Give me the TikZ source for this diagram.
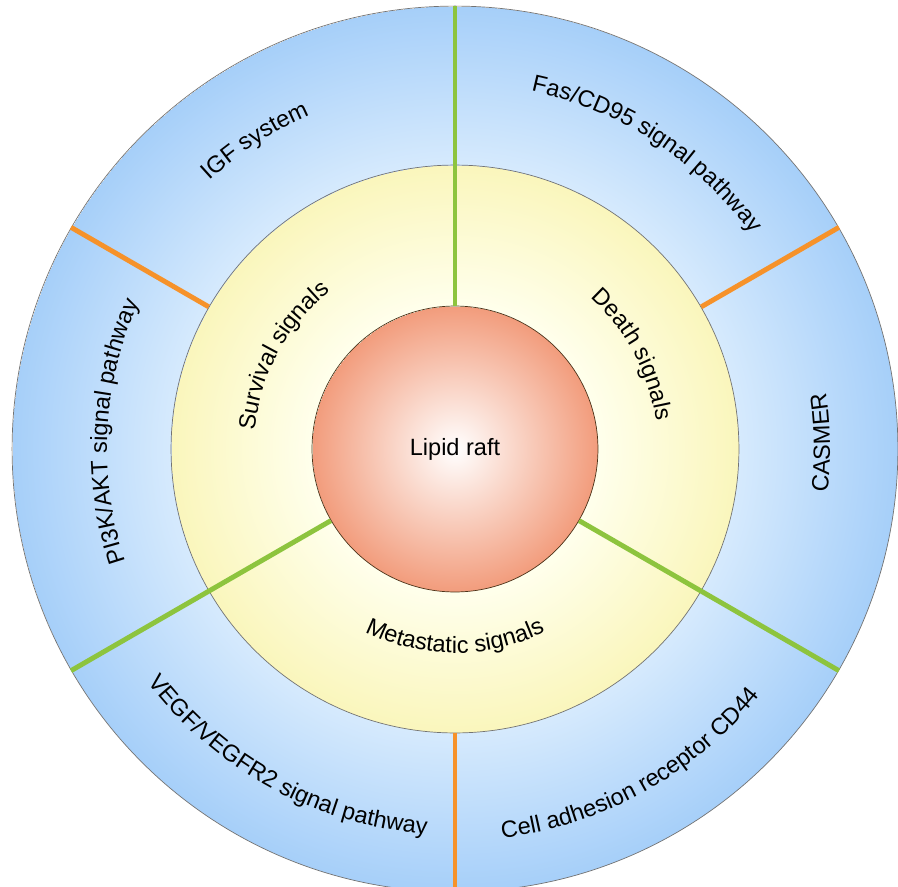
\documentclass[tikz,border=0pt]{standalone}
\usepackage{fontspec}
\setmainfont{Liberation Sans}
\usetikzlibrary{decorations.text}
\definecolor{skyin}{RGB}{214,234,253}
\definecolor{skyout}{RGB}{166,207,249}
\definecolor{creamin}{RGB}{255,255,236}
\definecolor{creamout}{RGB}{250,246,188}
\definecolor{salmon}{RGB}{242,156,124}
\definecolor{leafgreen}{RGB}{141,196,62}
\definecolor{tangerine}{RGB}{246,146,42}
\pgfdeclareradialshading{pathwayring}{\pgfpointorigin}{color(0bp)=(skyin); color(16bp)=(skyin); color(25bp)=(skyout)}
\pgfdeclareradialshading{signalring}{\pgfpointorigin}{color(0bp)=(creamin); color(12.6bp)=(creamin); color(25bp)=(creamout)}
\pgfdeclareradialshading{raftball}{\pgfpointorigin}{color(0bp)=(white); color(25bp)=(salmon)}
\newcommand\lblfont{\fontsize{13.4}{16}\selectfont}
\tikzset{
  disc/.style={circle, inner sep=0pt, draw=black!55, line width=0.4pt},
  greenbar/.style={draw=leafgreen, line width=2.8pt},
  orangebar/.style={draw=tangerine, line width=2.8pt},
}

\begin{document}
\begin{tikzpicture}[scale=0.02]

      \newcommand\ringlabel[4]{
        \path[decorate, decoration={text along path, text align=center, text={|\lblfont|#4}}]
          (#1:#3) arc[start angle=#1, end angle=#2, radius=#3];
      }

      \useasboundingbox (-455,-437) rectangle (443,449);
      \clip (-455,-437) rectangle (443,449);

      \node[disc, shading=pathwayring, minimum size=17.72cm] (pathways) at (0,0) {};
      \node[disc, shading=signalring, minimum size=11.36cm] (signals) at (0,0) {};
      \node[disc, shading=raftball, draw=black!60!brown, minimum size=5.72cm, font=\lblfont] (raft) at (0,0) {Lipid raft};

      \foreach \ang in {90,210,330} \draw[greenbar] (raft.\ang) -- (pathways.\ang);
      \foreach \ang in {30,150,270} \draw[orangebar] (signals.\ang) -- (pathways.\ang);

      % outer ring
      \ringlabel{183}{63}{364}{IGF system}
      \ringlabel{117}{-3}{366}{Fas/CD95 signal pathway}
      \ringlabel{-59}{61}{375}{CASMER}
      \ringlabel{239}{359}{392}{Cell adhesion receptor CD44}
      \ringlabel{181.5}{301.5}{386}{VEGF/VEGFR2 signal pathway}
      \ringlabel{237}{117}{348}{PI3K/AKT signal pathway}
      % middle ring
      \ringlabel{211.5}{91.5}{201}{Survival signals}
      \ringlabel{88}{-32}{203}{Death signals}
      \ringlabel{210}{330}{204}{Metastatic signals}

\end{tikzpicture}
\end{document}
